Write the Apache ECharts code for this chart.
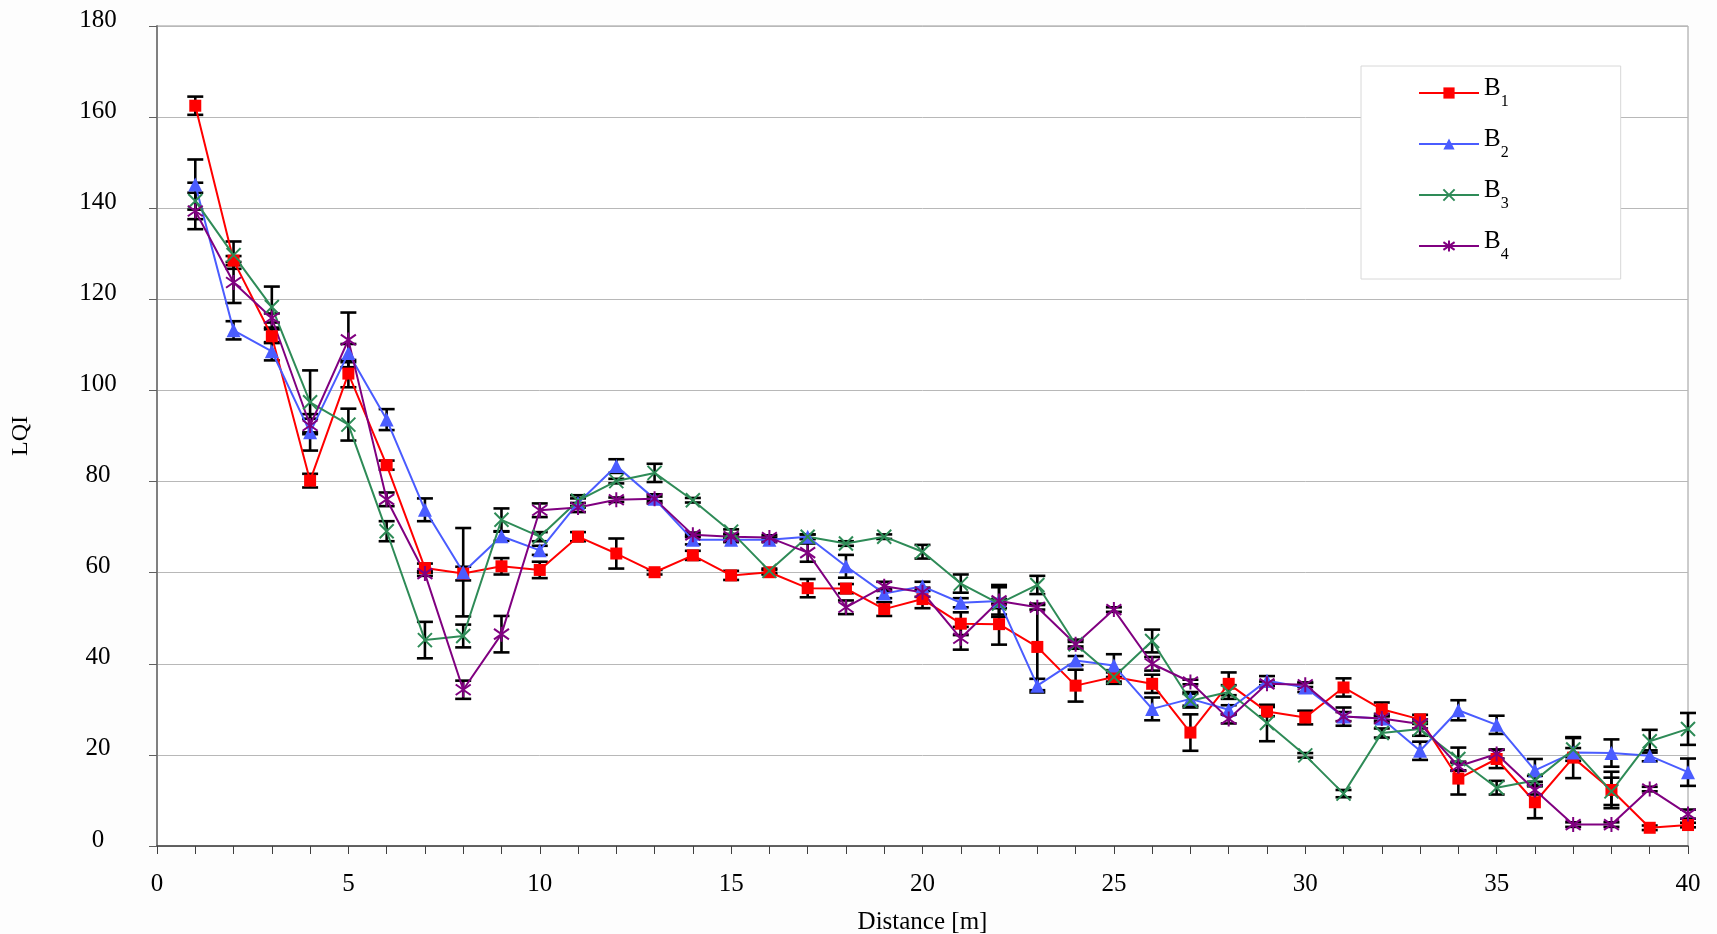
<!DOCTYPE html>
<html>
<head>
<meta charset="utf-8">
<script src="https://cdn.jsdelivr.net/npm/echarts@6/dist/echarts.min.js"></script>
<style>
html,body{margin:0;padding:0;background:#fdfdfd;overflow:hidden;}
#chart{width:1717px;height:934px;}
</style>
</head>
<body>
<div id="chart"></div>
<script>
const distances = [1,2,3,4,5,6,7,8,9,10,11,12,13,14,15,16,17,18,19,20,21,22,23,24,25,26,27,28,29,30,31,32,33,34,35,36,37,38,39,40];
const seriesNames = ['B1','B2','B3','B4'];
const subscripts = ['1','2','3','4'];
const xTicks = [0,5,10,15,20,25,30,35,40];
const yTicks = [0,20,40,60,80,100,120,140,160,180];

const b1 = [162.5,128.5,111.9,80.2,103.7,83.6,61.0,59.8,61.4,60.6,67.9,64.2,60.1,63.8,59.4,60.1,56.6,56.5,52.0,54.2,48.8,48.7,43.7,35.2,37.1,35.6,24.9,35.6,29.5,28.2,34.8,30.0,27.8,14.8,19.1,9.6,19.4,12.3,4.0,4.6];
const b2 = [145.2,113.2,108.6,90.8,108.2,93.6,73.8,60.1,68.0,64.9,75.3,83.4,76.2,67.2,67.2,67.2,67.9,61.4,55.4,57.0,53.4,53.8,35.2,40.7,39.6,30.1,32.3,29.9,36.3,34.8,28.4,28.0,20.9,29.8,26.6,16.6,20.5,20.4,19.8,16.2];
const b3 = [141.6,129.7,118.3,97.4,92.5,69.1,45.2,46.1,71.6,67.9,75.8,80.1,81.9,75.9,69.0,60.4,67.9,66.4,67.9,64.6,57.6,53.2,57.3,44.3,37.1,45.0,31.9,33.8,27.0,19.9,11.5,24.8,25.7,19.1,12.8,14.4,21.2,12.0,23.0,25.7];
const b4 = [139.4,123.7,115.9,92.3,111.1,76.1,59.8,34.3,46.5,73.7,74.3,76.0,76.2,68.3,67.9,67.7,64.4,52.4,57.0,55.7,45.6,53.8,52.4,44.3,51.9,40.0,36.0,27.9,35.6,35.4,28.4,28.0,26.8,17.5,20.2,12.3,4.7,4.7,12.5,7.0];

const e1 = [2,1,1.5,1.5,3,1,1,1.5,1.8,1.8,1,3.3,0.5,1,1,0.5,2,1,1.5,2,2.5,4.5,9.5,3.5,1,2,4,2.5,1,1.5,2,1.5,1,3.5,2,3.5,4.5,4,0.5,0.5];
const e2 = [5.5,2,2,4,2,2.3,2.5,9.7,1,1,1,1.5,1,1,0.5,0.5,0.5,2.5,1,1,1,3.5,1.5,1,2.5,2.5,1.5,1,1,1,2,1,2,2.2,2,2.5,1,3,1.2,3];
const e3 = [4,3,4.5,7,3.5,2.2,4,2.5,2.5,1,1.2,0.5,2,0.5,0.5,0.5,0.5,0.5,0.5,1.5,2,1,2,0.5,1.5,2.5,1.5,1.5,4,0.5,0.8,1,1.5,2.5,1.5,1,2.5,3,2.5,3.5];
const e4 = [4,4.5,1,1.5,6,1.5,0.5,2,4,1.5,1,0.5,0.5,0.5,0.5,0.5,2,1.5,1,1,2.5,3,0.5,1,0.5,1.5,0.5,1,0.5,0.5,1,0.5,1,1,1,1,0.5,0.5,0.5,1];

const values = [b1,b2,b3,b4];
const errors = [e1,e2,e3,e4];
const colors = ['#ff0000','#4a5cff','#2e8b57','#800080'];
const symbols = [
  'rect',
  'triangle',
  'path://M0,0 L10,10 M10,0 L0,10',
  'path://M5,0 L5,10 M0.8,1.5 L9.2,8.5 M9.2,1.5 L0.8,8.5'
];
const symbolSizes = [12, 14, 14, 15];

const serif = '"Liberation Serif","DejaVu Serif",serif';

const chart = echarts.init(document.getElementById('chart'), null, {renderer:'canvas'});

const series = [];
values.forEach((vals, k) => {
  series.push({
    type: 'custom',
    silent: true,
    z: 2,
    renderItem: function (params, api) {
      const x = api.value(0), y = api.value(1), e = api.value(2);
      const top = api.coord([x, y + e]);
      const bot = api.coord([x, y - e]);
      const hw = 8;
      const st = {stroke: '#000', lineWidth: 2.6};
      return {
        type: 'group',
        children: [
          {type: 'line', shape: {x1: top[0], y1: top[1], x2: bot[0], y2: bot[1]}, style: st},
          {type: 'line', shape: {x1: top[0] - hw, y1: top[1], x2: top[0] + hw, y2: top[1]}, style: st},
          {type: 'line', shape: {x1: bot[0] - hw, y1: bot[1], x2: bot[0] + hw, y2: bot[1]}, style: st}
        ]
      };
    },
    encode: {x: 0, y: 1},
    data: distances.map((d, i) => [d, vals[i], errors[k][i]])
  });
});
values.forEach((vals, k) => {
  series.push({
    name: seriesNames[k],
    type: 'line',
    z: 3,
    symbol: symbols[k],
    symbolSize: symbolSizes[k],
    showSymbol: true,
    lineStyle: {color: colors[k], width: 2},
    itemStyle: {color: colors[k], borderColor: colors[k], borderWidth: k >= 2 ? 2 : 0},
    data: distances.map((d, i) => [d, vals[i]])
  });
});

chart.setOption({
  animation: false,
  backgroundColor: '#fdfdfd',
  grid: {left: 157, right: 29, top: 26, bottom: 88, outerBoundsMode: 'none', containLabel: false, show: true, backgroundColor: '#ffffff', borderColor: '#9a9a9a', borderWidth: 1},
  legend: {
    data: seriesNames,
    orient: 'vertical',
    left: 1361,
    top: 66,
    padding: [10, 112, 16, 57],
    itemGap: 17,
    itemWidth: 60,
    itemHeight: 14,
    backgroundColor: '#ffffff',
    borderColor: '#d8d8d8',
    borderWidth: 1,
    formatter: function (name) {
      return '{b|B}{s|' + subscripts[seriesNames.indexOf(name)] + '}';
    },
    textStyle: {
      color: '#000',
      fontFamily: serif,
      rich: {
        b: {fontSize: 25, fontFamily: serif, color: '#000', lineHeight: 34, verticalAlign: 'top'},
        s: {fontSize: 16, fontFamily: serif, color: '#000', lineHeight: 16, verticalAlign: 'bottom'}
      }
    }
  },
  xAxis: {
    type: 'value',
    min: 0, max: 40, interval: 5,
    name: 'Distance [m]',
    nameLocation: 'middle',
    nameGap: 64,
    nameTextStyle: {fontFamily: serif, fontSize: 25, color: '#000'},
    axisLine: {show: true, onZero: false, lineStyle: {color: '#404040', width: 1.5}},
    axisTick: {show: true, length: 8, lineStyle: {color: '#404040'}},
    minorTick: {show: true, splitNumber: 5, length: 8, lineStyle: {color: '#404040'}},
    splitLine: {show: false},
    axisLabel: {
      margin: 26, fontFamily: serif, fontSize: 25, color: '#000',
      formatter: function (v) { return xTicks.indexOf(v) >= 0 ? String(v) : ''; }
    }
  },
  yAxis: {
    type: 'value',
    min: 0, max: 180, interval: 20,
    name: 'LQI',
    nameLocation: 'middle',
    nameGap: 124,
    nameRotate: 90,
    nameTextStyle: {fontFamily: serif, fontSize: 24, color: '#000'},
    axisLine: {show: true, lineStyle: {color: '#808080', width: 2}},
    axisTick: {show: true, length: 8, lineStyle: {color: '#606060'}},
    splitLine: {show: true, lineStyle: {color: '#b8b8b8', width: 1}},
    axisLabel: {
      margin: 59, align: 'center', verticalAlign: 'bottom', lineHeight: 12,
      fontFamily: serif, fontSize: 25, color: '#000',
      formatter: function (v) { return yTicks.indexOf(v) >= 0 ? String(v) : ''; }
    }
  },
  series: series
});
</script>
</body>
</html>
